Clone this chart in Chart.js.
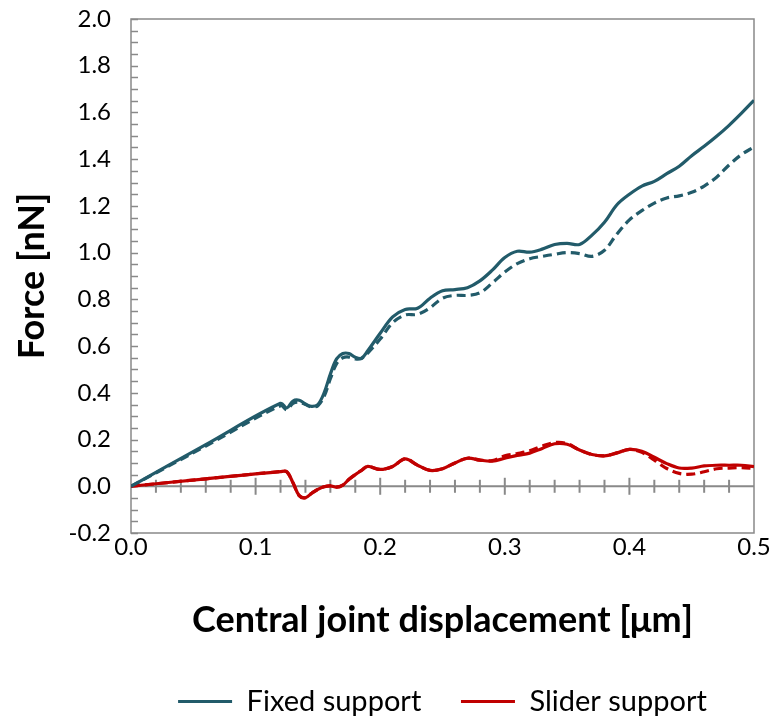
<!DOCTYPE html>
<html>
<head>
<meta charset="utf-8">
<script src="https://cdn.jsdelivr.net/npm/chart.js@4/dist/chart.umd.min.js"></script>
<style>
  html, body { margin: 0; padding: 0; background: #fff; }
  #wrap { width: 775px; height: 718px; }
</style>
</head>
<body>
<div id="wrap"><canvas id="forceChart"></canvas></div>
<script>
// Central joint displacement [um]
const displacement = [0, 0.06, 0.12, 0.125, 0.13, 0.135, 0.14, 0.145, 0.15, 0.155, 0.16, 0.165, 0.17, 0.175, 0.18, 0.185,
  0.19, 0.20, 0.21, 0.22, 0.23, 0.24, 0.25, 0.26, 0.27, 0.28, 0.29, 0.30, 0.31, 0.32, 0.33, 0.34, 0.35,
  0.36, 0.37, 0.38, 0.39, 0.40, 0.41, 0.42, 0.43, 0.44, 0.45, 0.46, 0.47, 0.48, 0.49, 0.50];

// Force [nN], solid and dashed curve of each support
const fixedSolid = [0, 0.178, 0.355, 0.335, 0.365, 0.368, 0.352, 0.342, 0.35, 0.40, 0.48, 0.545, 0.568, 0.568, 0.552, 0.548,
  0.58, 0.655, 0.725, 0.757, 0.762, 0.805, 0.837, 0.842, 0.85, 0.879, 0.925, 0.979, 1.006, 1.002, 1.015, 1.035, 1.04,
  1.035, 1.075, 1.13, 1.205, 1.25, 1.285, 1.305, 1.338, 1.37, 1.415, 1.455, 1.498, 1.545, 1.597, 1.652];
const fixedDashed = [0, 0.172, 0.345, 0.328, 0.355, 0.36, 0.35, 0.34, 0.345, 0.385, 0.46, 0.525, 0.55, 0.553, 0.545, 0.547,
  0.57, 0.63, 0.70, 0.733, 0.736, 0.764, 0.805, 0.817, 0.817, 0.828, 0.87, 0.917, 0.953, 0.974, 0.984, 0.993, 1.0,
  0.996, 0.984, 1.01, 1.08, 1.14, 1.18, 1.212, 1.234, 1.243, 1.258, 1.285, 1.323, 1.375, 1.42, 1.452];
const sliderSolid = [0, 0.032, 0.063, 0.062, 0.015, -0.04, -0.049, -0.03, -0.013, -0.002, 0.002, -0.004, 0.005, 0.03, 0.05, 0.068,
  0.085, 0.072, 0.085, 0.117, 0.09, 0.068, 0.075, 0.10, 0.12, 0.112, 0.108, 0.12, 0.132, 0.142, 0.162, 0.182, 0.18,
  0.155, 0.136, 0.13, 0.143, 0.158, 0.15, 0.124, 0.097, 0.078, 0.078, 0.087, 0.09, 0.09, 0.09, 0.084];
const sliderDashed = [0, 0.032, 0.063, 0.062, 0.015, -0.04, -0.049, -0.03, -0.013, -0.002, 0.002, -0.004, 0.005, 0.03, 0.05, 0.068,
  0.085, 0.072, 0.085, 0.117, 0.09, 0.068, 0.075, 0.10, 0.12, 0.112, 0.11, 0.13, 0.14, 0.152, 0.172, 0.187, 0.183,
  0.155, 0.136, 0.13, 0.143, 0.158, 0.145, 0.112, 0.076, 0.055, 0.052, 0.062, 0.075, 0.078, 0.08, 0.076];

const seriesLabels = ['Fixed support', 'Slider support'];

const TEAL = '#225B6A';
const RED = '#C00000';
const AXIS_GREY = '#898989';
const FONT = 'Lato, "Open Sans", sans-serif';

const toPoints = (ys) => ys.map((y, i) => ({ x: displacement[i], y }));

// draws the box, the inner y ticks and the x axis line crossing at zero
const axisDecor = {
  id: 'axisDecor',
  beforeDatasetsDraw(chart) {
    const { ctx, chartArea: a, scales: { x, y } } = chart;
    ctx.save();
    ctx.strokeStyle = AXIS_GREY;
    ctx.lineWidth = 1.5;
    ctx.strokeRect(a.left, a.top, a.right - a.left, a.bottom - a.top);

    // y ticks every 0.05, pointing inwards
    for (let v = -0.2; v <= 2.0001; v += 0.05) {
      const py = Math.round(y.getPixelForValue(v)) + 0.5;
      ctx.beginPath();
      ctx.moveTo(a.left, py);
      ctx.lineTo(a.left + 7, py);
      ctx.stroke();
    }

    // horizontal axis at y = 0
    const y0 = y.getPixelForValue(0);
    ctx.lineWidth = 2;
    ctx.beginPath();
    ctx.moveTo(a.left, y0);
    ctx.lineTo(a.right, y0);
    ctx.stroke();
    for (let i = 1; i < 25; i++) {
      const px = x.getPixelForValue(i * 0.02);
      const len = i % 5 === 0 ? 8.5 : 6.5;
      ctx.beginPath();
      ctx.moveTo(px, y0 - len);
      ctx.lineTo(px, y0 + len);
      ctx.stroke();
    }
    ctx.restore();
  }
};

const ctx = document.getElementById('forceChart').getContext('2d');
new Chart(ctx, {
  type: 'line',
  data: {
    datasets: [
      { label: seriesLabels[0], data: toPoints(fixedSolid), borderColor: TEAL, backgroundColor: TEAL },
      { label: seriesLabels[1], data: toPoints(sliderSolid), borderColor: RED, backgroundColor: RED },
      { label: seriesLabels[0] + ' (dashed)', data: toPoints(fixedDashed), borderColor: TEAL, borderDash: [9, 5] },
      { label: seriesLabels[1] + ' (dashed)', data: toPoints(sliderDashed), borderColor: RED, borderDash: [9, 5] }
    ]
  },
  options: {
    responsive: true,
    maintainAspectRatio: false,
    animation: false,
    datasets: {
      line: { borderWidth: 3.2, pointRadius: 0, tension: 0.35, fill: false }
    },
    layout: { padding: { top: 19, right: 21, left: 0, bottom: -8 } },
    scales: {
      x: {
        type: 'linear',
        min: 0,
        max: 0.5,
        grid: { display: false, drawTicks: false },
        border: { display: false },
        ticks: {
          stepSize: 0.1,
          padding: 0,
          color: '#000',
          font: { family: FONT, size: 24 },
          callback: (v) => v.toFixed(1)
        },
        title: {
          display: true,
          text: 'Central joint displacement [μm]',
          color: '#000',
          font: { family: FONT, size: 36, weight: 'bold' },
          padding: { top: 37, bottom: 35 }
        },
        afterFit: (scale) => { scale.paddingLeft = 0; scale.paddingRight = 0; }
      },
      y: {
        min: -0.2,
        max: 2.0,
        grid: { display: false, drawTicks: false },
        border: { display: false },
        ticks: {
          stepSize: 0.2,
          padding: 20,
          color: '#000',
          font: { family: FONT, size: 24 },
          callback: (v) => v.toFixed(1)
        },
        title: {
          display: true,
          text: 'Force [nN]',
          color: '#000',
          font: { family: FONT, size: 36, weight: 'bold' },
          padding: { top: 11, bottom: 0 }
        },
        afterFit: (scale) => { scale.width = 131; scale.paddingTop = 0; scale.paddingBottom = 0; }
      }
    },
    plugins: {
      legend: {
        position: 'bottom',
        fullSize: false,
        labels: {
          usePointStyle: true,
          pointStyle: 'line',
          pointStyleWidth: 54,
          boxHeight: 3,
          padding: 10,
          color: '#000',
          font: { family: FONT, size: 29 },
          filter: (item) => item.datasetIndex < 2,
          generateLabels: (chart) => Chart.defaults.plugins.legend.labels.generateLabels(chart)
            .map((item) => (item.datasetIndex === 0 ? { ...item, text: item.text + '    ' } : item))
        }
      },
      tooltip: { enabled: false }
    }
  },
  plugins: [axisDecor]
});
</script>
</body>
</html>
